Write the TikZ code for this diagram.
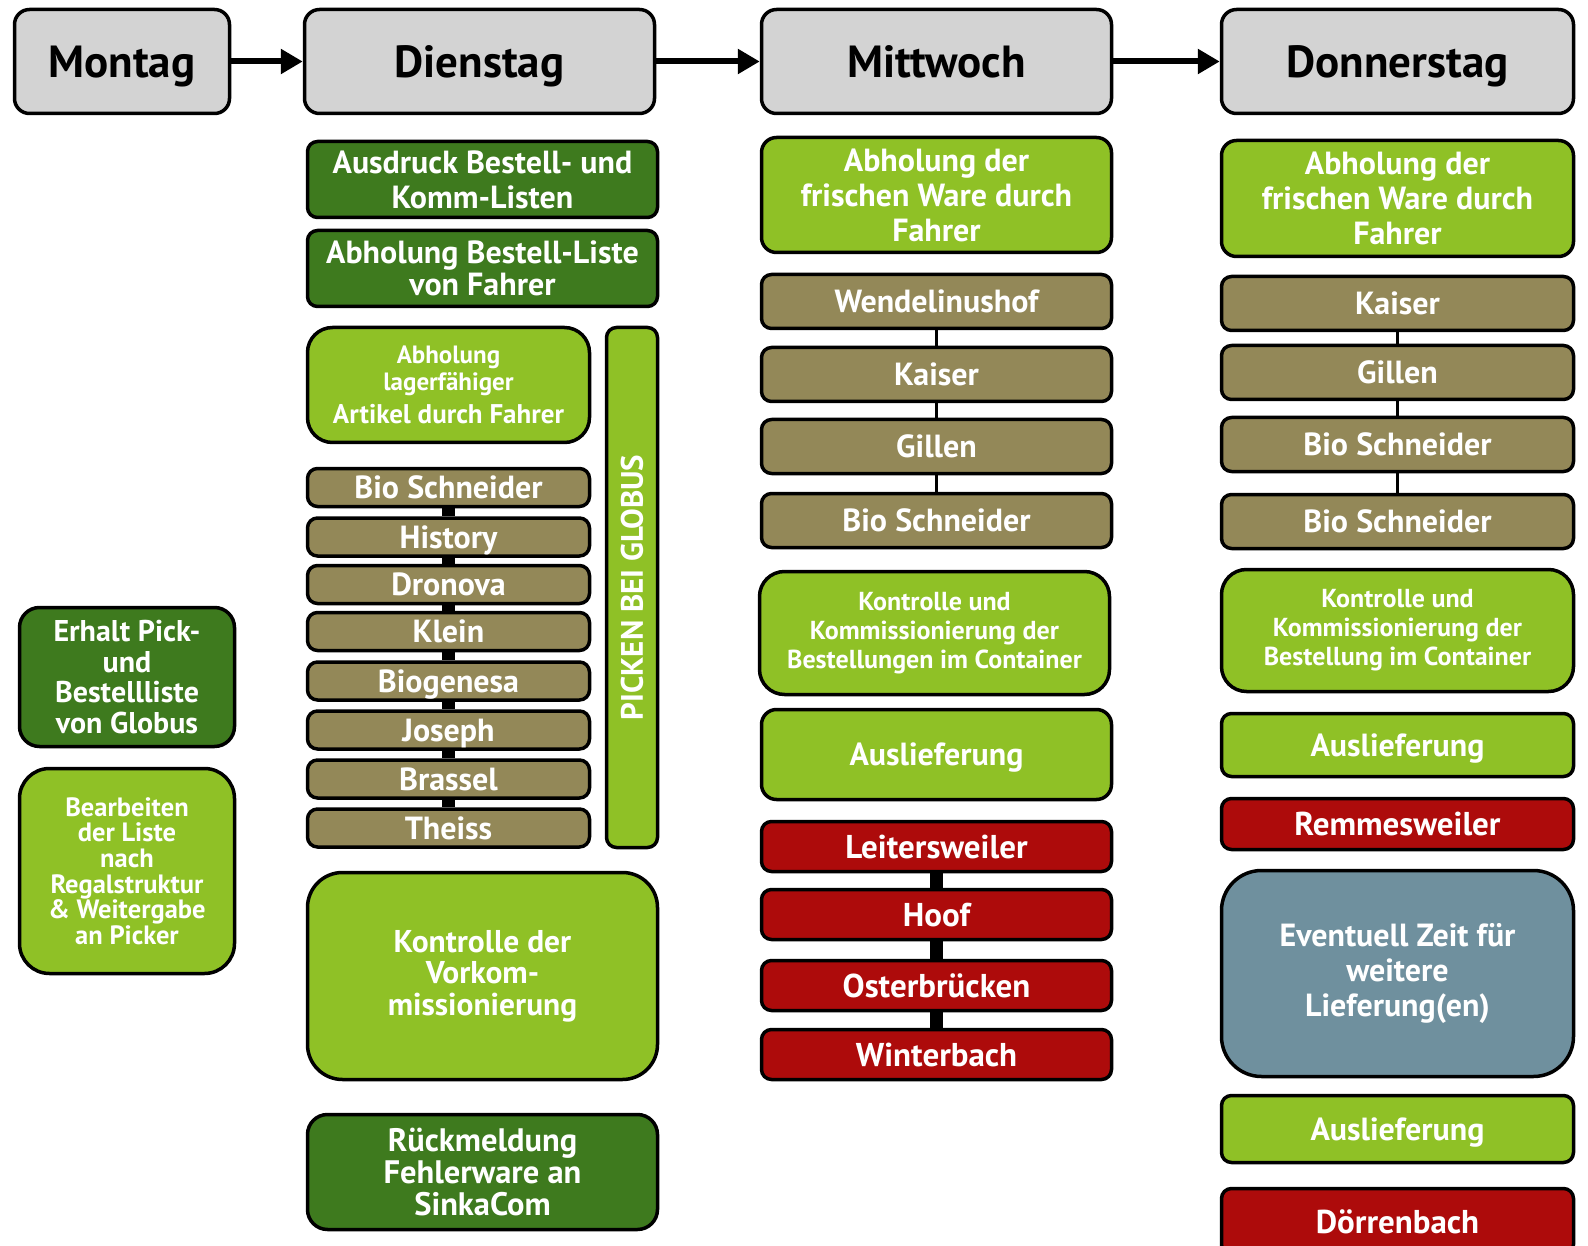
\documentclass[tikz,border=0pt]{standalone}
\usepackage{fontspec}
\setmainfont{PT Sans}
\usetikzlibrary{arrows.meta}

\definecolor{hdrgray}{RGB}{211,211,211}
\definecolor{darkgreen}{RGB}{62,122,30}
\definecolor{lightgreen}{RGB}{143,193,38}
\definecolor{olive}{RGB}{147,136,88}
\definecolor{darkred}{RGB}{173,11,11}
\definecolor{slate}{RGB}{111,144,158}

\begin{document}
\begin{tikzpicture}[x=1pt, y=-1pt, line cap=round, line join=round,
	box/.style={draw=black, line width=3.5pt, rounded corners=10pt, text=white,
		align=center, inner sep=0pt, font=\bfseries\fontsize{32}{35}\selectfont},
	wh/.style 2 args={minimum width=#1pt, minimum height=#2pt},
	oneline/.style={text height=#1, text depth=0pt},
	oneline/.default=22.4pt,
	hdr/.style={box, oneline=31.5pt, fill=hdrgray, text=black, rounded corners=15pt,
		font=\bfseries\fontsize{45}{50}\selectfont},
	dgreen/.style={box, fill=darkgreen},
	lgreen/.style={box, fill=lightgreen},
	brown/.style={box, oneline, fill=olive},
	redbox/.style={box, oneline=23.1pt, fill=darkred, font=\bfseries\fontsize{33}{35}\selectfont},
	slatebox/.style={box, fill=slate},
	fmid/.style={font=\bfseries\fontsize{26}{29}\selectfont},
	fsmall/.style={font=\bfseries\fontsize{26.5}{25.6}\selectfont},
	flow/.style={line width=6pt, -{Triangle[length=22pt,width=24pt]}},
	thinlink/.style={line width=3pt},
	thicklink/.style={line width=13pt, line cap=butt}]
	
	\useasboundingbox (0,0) rectangle (1588,1246);
	\clip (0,0) rectangle (1588,1246);
	
	% --- Kopfzeile: Wochentage ---
	\node[hdr, wh={215}{104}] (mon) at (122,61.5) {Montag};
	\node[hdr, wh={350}{104}] (die) at (479.5,61.5) {Dienstag};
	\node[hdr, wh={350}{104}] (mit) at (936.5,61.5) {Mittwoch};
	\node[hdr, wh={352}{104}] (don) at (1397.5,61.5) {Donnerstag};
	
	\draw[flow] (mon.east) -- (die.west);
	\draw[flow] (die.east) -- (mit.west);
	\draw[flow] (mit.east) -- (don.west);
	
	% --- Montag ---
	\node[dgreen, wh={215}{139}, rounded corners=20pt, font=\bfseries\fontsize{30}{30.4}\selectfont]
		(erhalt) at (127,677) {Erhalt Pick-\\und\\Bestellliste\\von Globus};
	\node[lgreen, wh={215}{205}, rounded corners=30pt, fsmall]
		(bearb) at (127,871) {Bearbeiten\\der Liste\\nach\\Regalstruktur\\\& Weitergabe\\an Picker};
	
	% --- Dienstag ---
	\node[dgreen, wh={350}{76}] (ausdruck) at (482.5,179.5) {Ausdruck Bestell- und\\Komm-Listen};
	\node[dgreen, wh={350}{76}, font=\bfseries\fontsize{32}{32}\selectfont]
		(liste) at (482.5,268.5) {Abholung Bestell-Liste\\von Fahrer};
	\node[lgreen, wh={282}{115}, rounded corners=25pt, font=\bfseries\fontsize{25}{27}\selectfont]
		(lager) at (448.5,385) {Abholung\\lagerfähiger\\[6pt]{\fontsize{27}{27}\selectfont Artikel durch Fahrer}};
	\node[lgreen, wh={520}{51}, rotate=90, oneline=21.7pt, font=\bfseries\fontsize{31}{35}\selectfont]
		(picken) at (632,587.5) {PICKEN BEI GLOBUS};
	
	% Lieferanten zum Picken
	\node[brown, wh={282}{38}] (bio) at (448.5,487.5) {Bio Schneider};
	\node[brown, wh={282}{38}] (hist) at (448.5,537) {History};
	\node[brown, wh={282}{38}] (dron) at (448.5,584.5) {Dronova};
	\node[brown, wh={282}{38}] (klein) at (448.5,631.5) {Klein};
	\node[brown, wh={282}{38}] (biog) at (448.5,681) {Biogenesa};
	\node[brown, wh={282}{38}] (jos) at (448.5,730) {Joseph};
	\node[brown, wh={282}{38}] (brass) at (448.5,779) {Brassel};
	\node[brown, wh={282}{38}] (theiss) at (448.5,828) {Theiss};
	\draw[thicklink] (bio) -- (hist) (hist) -- (dron) (dron) -- (klein) (klein) -- (biog)
		(biog) -- (jos) (jos) -- (brass) (brass) -- (theiss);
	
	\node[lgreen, wh={350}{207}, rounded corners=35pt, font=\bfseries\fontsize{31.5}{31.5}\selectfont]
		(vorkomm) at (482.5,976) {Kontrolle der\\Vorkom-\\missionierung};
	\node[dgreen, wh={350}{115}, rounded corners=20pt, font=\bfseries\fontsize{32.5}{32.4}\selectfont]
		(rueck) at (482.5,1172) {Rückmeldung\\Fehlerware an\\SinkaCom};
	
	% --- Mittwoch ---
	\node[lgreen, wh={350}{115}, rounded corners=15pt] (mabhol) at (936.5,195)
		{Abholung der\\frischen Ware durch\\Fahrer};
	\node[brown, wh={350}{54}] (wendel) at (936.5,301.5) {Wendelinushof};
	\node[brown, wh={350}{54}] (mkaiser) at (936.5,374.5) {Kaiser};
	\node[brown, wh={350}{54}] (mgillen) at (936.5,446.5) {Gillen};
	\node[brown, wh={350}{54}] (mbio) at (936.5,520.5) {Bio Schneider};
	\draw[thinlink] (wendel) -- (mkaiser) (mkaiser) -- (mgillen) (mgillen) -- (mbio);
	
	\node[lgreen, wh={350}{123}, rounded corners=25pt, fmid] (mkontr) at (934.5,633)
		{Kontrolle und\\Kommissionierung der\\Bestellungen im Container};
	\node[lgreen, wh={350}{90}, rounded corners=15pt, oneline] (mausl) at (936.5,754.5) {Auslieferung};
	
	% Touren Mittwoch
	\node[redbox, wh={350}{50}] (leiter) at (936.5,846.5) {Leitersweiler};
	\node[redbox, wh={350}{50}] (hoof) at (936.5,914.5) {Hoof};
	\node[redbox, wh={350}{50}] (oster) at (936.5,985.5) {Osterbrücken};
	\node[redbox, wh={350}{50}] (winter) at (936.5,1054.5) {Winterbach};
	\draw[thicklink] (leiter) -- (hoof) (hoof) -- (oster) (oster) -- (winter);
	
	% --- Donnerstag ---
	\node[lgreen, wh={352}{116}, rounded corners=15pt] (dabhol) at (1397.5,198.5)
		{Abholung der\\frischen Ware durch\\Fahrer};
	\node[brown, wh={352}{54}] (dkaiser) at (1397.5,303.5) {Kaiser};
	\node[brown, wh={352}{54}] (dgillen) at (1397.5,372.5) {Gillen};
	\node[brown, wh={352}{54}] (dbio) at (1397.5,444.5) {Bio Schneider};
	\node[brown, wh={352}{54}] (dbiob) at (1397.5,521.5) {Bio Schneider};
	\draw[thinlink] (dkaiser) -- (dgillen) (dgillen) -- (dbio) (dbio) -- (dbiob);
	
	\node[lgreen, wh={352}{122}, rounded corners=25pt, fmid] (dkontr) at (1397.5,630.5)
		{Kontrolle und\\Kommissionierung der\\Bestellung im Container};
	\node[lgreen, wh={352}{63}, oneline] (dausl) at (1397.5,745) {Auslieferung};
	\node[redbox, wh={352}{51}] (remmes) at (1397.5,824) {Remmesweiler};
	\node[slatebox, wh={352}{206}, rounded corners=40pt] (event) at (1397.5,973.5)
		{Eventuell Zeit für\\weitere\\Lieferung(en)};
	\node[lgreen, wh={352}{67}, oneline] (dausl2) at (1397.5,1129) {Auslieferung};
	\node[redbox, wh={352}{66}] (doerren) at (1397.5,1221.5) {Dörrenbach};
	
\end{tikzpicture}
\end{document}
